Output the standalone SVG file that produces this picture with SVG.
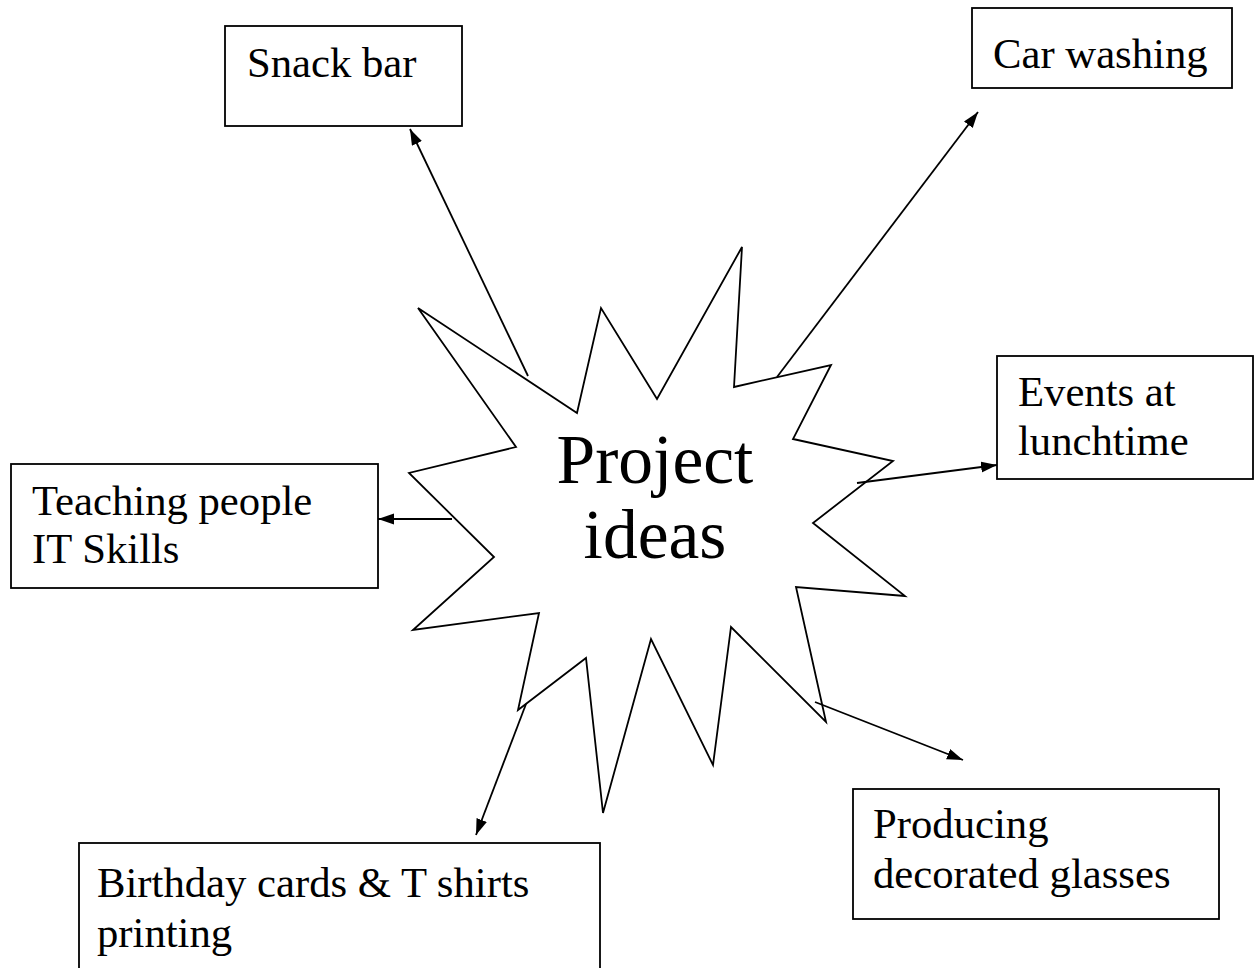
<svg xmlns="http://www.w3.org/2000/svg" width="1254" height="968" viewBox="0 0 1254 968">
<style>
.box{fill:#fff;stroke:#000;stroke-width:1.8}
.t{font-family:"Liberation Serif","Times New Roman",serif;font-size:42.7px;fill:#000}
.big{font-family:"Liberation Serif","Times New Roman",serif;font-size:69.5px;fill:#000;text-anchor:middle}
.c{stroke:#000;stroke-width:1.8;fill:none;marker-end:url(#ah)}
.star{fill:#fff;stroke:#000;stroke-width:1.8;stroke-linejoin:miter}
</style>
<defs>
<marker id="ah" markerUnits="userSpaceOnUse" markerWidth="16" markerHeight="12" refX="16" refY="5.5" orient="auto">
<path d="M0,0 L16,5.5 L0,11 z" fill="#000"/>
</marker>
</defs>
<rect width="1254" height="968" fill="#fff"/>
<g id="center">
<polygon class="star" points="418,308 577,413 601,308 657,399 742,247 734,387 831,365 793,439 893,461 813,523 905,596 796,587 826,722 731,627 713,765 651,639 603,813 586,658 518,710 539,613 413,630 494,557 409,473 516,447"/>
<text class="big" x="655" y="483">Project</text>
<text class="big" x="655" y="558">ideas</text>
</g>
<g id="connectors">
<line class="c" x1="528" y1="376" x2="410" y2="129"/>
<line class="c" x1="777" y1="377" x2="978" y2="112"/>
<line class="c" x1="857" y1="483" x2="997" y2="465"/>
<line class="c" x1="452" y1="519" x2="378" y2="519"/>
<line class="c" x1="526" y1="704" x2="476" y2="835"/>
<line class="c" x1="815" y1="702" x2="963" y2="760"/>
</g>
<g id="snack">
<rect class="box" x="225" y="26" width="237" height="100"/>
<text class="t" x="247" y="77">Snack bar</text>
</g>
<g id="car">
<rect class="box" x="972" y="8" width="260" height="80"/>
<text class="t" x="993" y="68">Car washing</text>
</g>
<g id="events">
<rect class="box" x="997" y="356" width="256" height="123"/>
<text class="t" x="1018" y="406">Events at</text>
<text class="t" x="1018" y="455">lunchtime</text>
</g>
<g id="teaching">
<rect class="box" x="11" y="464" width="367" height="124"/>
<text class="t" x="32" y="515">Teaching people</text>
<text class="t" x="32" y="563">IT Skills</text>
</g>
<g id="birthday">
<rect class="box" x="79" y="843" width="521" height="135"/>
<text class="t" x="97" y="897">Birthday cards &amp; T shirts</text>
<text class="t" x="97" y="947">printing</text>
</g>
<g id="producing">
<rect class="box" x="853" y="789" width="366" height="130"/>
<text class="t" x="873" y="838">Producing</text>
<text class="t" x="873" y="888">decorated glasses</text>
</g>
</svg>
